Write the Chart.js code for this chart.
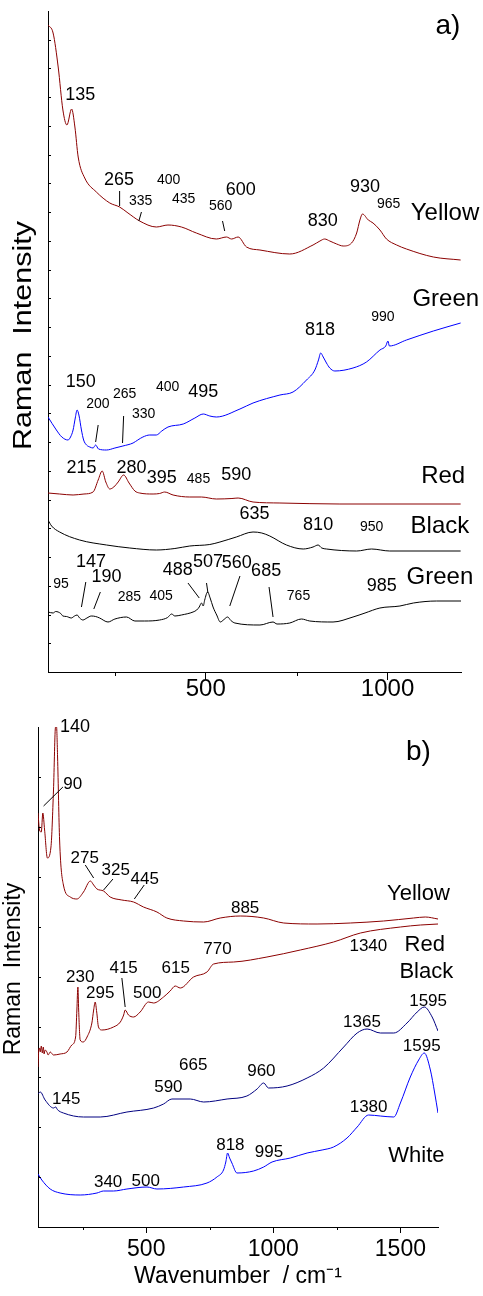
<!DOCTYPE html>
<html>
<head>
<meta charset="utf-8">
<script src="https://cdn.jsdelivr.net/npm/chart.js@4.4.1/dist/chart.umd.min.js"></script>
<style>
  html, body { margin: 0; padding: 0; background: #fff; }
  canvas { display: block; }
</style>
</head>
<body>
<canvas id="chart-a" width="483" height="705"></canvas>
<canvas id="chart-b" width="483" height="591"></canvas>
<script>
// ---- panel a) spectra: [wavenumber, intensity] ----
const yellowA = [[66,647],[80,639],[94,605],[107,562],[118,547],[131,563],[140,545],[149,515],[167,494],[199,480],[236,469],[263,465],[286,459],[318,451],[364,445],[396,447],[433,445],[474,439],[529,433],[557,435],[571,433],[589,435],[612,425],[649,422],[731,418],[795,427],[814,431],[827,433],[841,431],[860,428],[878,426],[901,429],[915,439],[924,452],[931,458],[947,452],[960,449],[979,442],[997,433],[1025,427],[1052,423],[1126,415],[1201,412]];
const greenA = [[66,255],[89,242],[104,235],[121,232],[128,235],[135,242],[141,254],[146,262],[151,257],[158,242],[164,232],[172,227],[181,225],[190,224],[197,227],[205,223],[227,222],[250,224],[272,226],[300,229],[313,232],[327,235],[346,237],[364,237],[379,241],[396,245],[438,248],[470,254],[493,258],[511,256],[529,255],[594,263],[630,269],[704,277],[740,280],[777,292],[800,302],[810,312],[816,319],[823,315],[832,309],[841,304],[855,301],[905,304],[942,310],[979,322],[995,326],[1001,331],[1005,326],[1052,332],[1126,341],[1201,349]];
const redA = [[66,179],[98,178],[135,177],[165,178],[190,180],[204,192],[215,201],[225,190],[236,183],[247,185],[259,190],[274,197],[289,189],[305,181],[318,179],[355,178],[373,178.5],[387,180],[410,177],[456,175],[488,175],[529,173],[572,173.5],[589,174],[630,170],[704,169],[869,168],[1201,168]];
const blackA = [[66,152],[76,146],[98,140],[153,132],[227,127],[291,124],[364,122],[415,123.5],[456,126],[511,127.5],[539,130],[584,135],[630,140],[654,139],[676,136],[722,127],[768,123],[795,125],[809,127],[819,124],[832,123],[915,121],[956,123],[1006,121],[1201,121]];
const greenLowA = [[66,60],[80,59],[87,60.5],[94,60],[101,58.5],[107,56],[117,55.5],[130,54],[139,56],[146,57],[153,54],[162,52],[173,54],[185,56],[197,55.5],[208,54],[231,50],[250,53],[282,55],[305,51],[332,51],[373,52],[395,54.5],[406,58],[415,56],[433,57],[465,60],[475,62],[482,65],[488,69],[493,66],[497,72],[505,80],[512,74],[520,65],[530,57],[540,50],[550,52.5],[560,55],[569,51.5],[580,49],[649,47],[685,50],[696,48],[731,49],[763,53],[786,51],[850,50],[905,55],[938,59],[979,64],[1034,66],[1071,69],[1135,71],[1202,71]];

// ---- panel b) spectra ----
const yellowB = [[74,414],[80,397],[87,395],[93,414],[100,397],[111,369],[125,380],[135,437],[143,500],[147,500],[151,470],[159,387],[174,342],[201,330],[227,328],[253,335],[280,346],[293,342],[306,338],[332,336],[358,330],[404,327],[450,325],[489,320],[542,315],[581,309],[647,306],[726,305],[791,309],[870,311],[962,309],[1041,304],[1172,303],[1303,304],[1434,306],[1552,309],[1598,310],[1648,308]];
const redB = [[74,160],[77,177],[80,179],[83,175],[87,181],[91,174],[95,180],[98,173],[102,177],[109,175],[114,172],[122,175],[135,172],[161,173],[188,175],[207,182],[222,190],[227,217],[231,240],[234,217],[240,187],[252,185],[267,190],[286,204],[293,217],[299,225],[305,215],[312,200],[326,197],[371,200],[398,205],[411,212],[417,217],[430,212],[450,210],[476,215],[509,225],[529,224],[568,230],[594,236],[614,241],[634,239],[686,250],[739,255],[765,263],[844,265],[975,270],[1106,277],[1237,285],[1343,294],[1500,300],[1579,302],[1648,303]];
const blackB = [[74,133],[83,135],[102,127],[135,119],[144,120],[150,117.5],[174,114],[253,110],[319,110],[424,115],[529,119],[568,123],[601,128],[673,128],[726,125],[818,128],[896,131],[936,138],[962,144],[981,139],[1054,141],[1133,149],[1198,159],[1277,180],[1330,194],[1369,198],[1421,194],[1474,194],[1526,204],[1566,215],[1594,220],[1625,210],[1648,196]];
const whiteB = [[74,53],[89,47],[122,38],[161,34],[240,32],[306,34],[332,36],[371,36],[424,38],[503,40],[542,38],[647,40],[739,44],[778,50],[804,57],[813,65],[820,74],[828,69],[837,64],[857,54],[922,56],[962,60],[995,65],[1067,69],[1133,74],[1192,77],[1237,80],[1290,89],[1330,100],[1375,112],[1421,111],[1474,110],[1500,124],[1539,150],[1572,167],[1594,174],[1618,157],[1635,134],[1648,114]];

// ---- axes ----
const xTicksA = [500, 1000];
const xMinorA = [250, 750];
const xTicksB = [500, 1000, 1500];
const xMinorB = [250, 750, 1250];
const yTitle = 'Raman  Intensity';
const xTitleB = 'Wavenumber  / cm\u207B\u00B9';

// ---- peak notes: text, wavenumber, intensity, font size ----
const L = 18, S = 14, N = 24;
const notesA = [
  ['135',155,577,L],['265',261,492,L],['400',398,492,S],['335',321,471,S],['435',439,473,S],['560',541,466,S],['600',596,482,L],['830',822,451,L],['930',938,485,L],['965',1003,468,S],['Yellow',1158,459,N],
  ['150',156,290,L],['200',203,268,S],['265',277,278,S],['330',329,258,S],['400',395,285,S],['495',493,280,L],['818',814,342,L],['990',987,355,S],['Green',1160,373,N],
  ['215',158,204,L],['280',296,204,L],['395',379,194,L],['485',480,193,S],['590',584,197,L],['Red',1153,196,N],
  ['635',634,158,L],['810',809,146.5,L],['950',956,145,S],['Black',1144,146,N],
  ['147',184,110,L],['95',102,88,S],['190',227,95,L],['285',290,74.5,S],['405',377,75.5,S],['488',423,102,L],['507',506,110,L],['560',585,109,L],['685',666,100.7,L],['765',755,76,S],['985',984,86,L],['Green',1144,95,N],
  ['a)',1166,646,28]
];
const leadersA = [[263,481,263,466],[323,460,316,451],[546,451,552,441],[204,247,197,230],[274,256,271,229],[170,90,158,65],[210,80,192,63],[451,89,482,74],[502,89,506,79],[594,96,566,66],[674,85,685,55]];

const LB = 17, NB = 22;
const notesB = [
  ['140',220,500,18],['b)',1571,475,28],['90',211,443,LB],['275',258,369,LB],['325',380,357,LB],['445',494,348,LB],['885',889,319,LB],['Yellow',1571,333,NB],
  ['1340',1374,281,LB],['Red',1596,282,NB],['Black',1602,255,NB],['770',780,278,LB],['615',616,259,LB],['415',411,259,LB],['230',240,249.5,LB],['295',319,234,LB],['500',504,234,LB],
  ['1595',1609,226,LB],['1365',1349,204.5,LB],['665',685,161.5,LB],['960',953,156,LB],['590',587,139.5,LB],['145',185,128,LB],
  ['1595',1584,181,LB],['1380',1375,119.5,LB],['818',831,81.5,LB],['995',983,75,LB],['White',1563,71,NB],['340',350,45,LB],['500',498,46,LB]
];
const leadersB = [[172,440,96,421],[260,362,293,349],[369,348,332,337],[492,342,453,328],[404,249,417,220]];

const FONT = '"Liberation Sans", Arial, Helvetica, sans-serif';
const DARK_RED = '#8b0000';
const BLUE = '#0000ff';
const NAVY = '#000080';
const BLACK = '#000000';

Chart.defaults.font.family = FONT;
Chart.defaults.color = '#000';

const pts = arr => arr.map(([x, y]) => ({ x, y }));

function series(data, color) {
  return {
    data: pts(data),
    borderColor: color,
    borderWidth: 1,
    pointRadius: 0,
    fill: false,
    cubicInterpolationMode: 'monotone'
  };
}

// minor x ticks (short, outward) and small inward y ticks
function axisMarks(minor, minorLen, yStep, yLen) {
  return {
    id: 'axisMarks',
    afterDraw(chart) {
      const { ctx, scales: { x, y } } = chart;
      ctx.save();
      ctx.strokeStyle = '#000';
      ctx.lineWidth = 1;
      ctx.beginPath();
      minor.forEach(v => {
        const px = Math.round(x.getPixelForValue(v)) + 0.5;
        ctx.moveTo(px, x.top);
        ctx.lineTo(px, x.top + minorLen);
      });
      for (let v = y.min + yStep; v < y.max - 1; v += yStep) {
        const py = Math.round(y.getPixelForValue(v)) + 0.5;
        ctx.moveTo(y.right, py);
        ctx.lineTo(y.right + yLen, py);
      }
      ctx.stroke();
      ctx.restore();
    }
  };
}

// rotated y title, optionally stretched along its length
function yAxisTitle(text, size, cx, shift, stretch) {
  return {
    id: 'yAxisTitle',
    afterDraw(chart) {
      const { ctx, chartArea } = chart;
      ctx.save();
      ctx.translate(cx, (chartArea.top + chartArea.bottom) / 2 + shift);
      ctx.rotate(-Math.PI / 2);
      ctx.scale(stretch, 1);
      ctx.font = size + 'px ' + FONT;
      ctx.fillStyle = '#000';
      ctx.textAlign = 'center';
      ctx.textBaseline = 'middle';
      ctx.fillText(text, 0, 0);
      ctx.restore();
    }
  };
}

function peakNotes(notes, leaders) {
  return {
    id: 'peakNotes',
    afterDatasetsDraw(chart) {
      const { ctx, scales: { x, y } } = chart;
      ctx.save();
      ctx.strokeStyle = '#000';
      ctx.lineWidth = 1;
      ctx.beginPath();
      leaders.forEach(([x1, y1, x2, y2]) => {
        ctx.moveTo(x.getPixelForValue(x1), y.getPixelForValue(y1));
        ctx.lineTo(x.getPixelForValue(x2), y.getPixelForValue(y2));
      });
      ctx.stroke();
      ctx.fillStyle = '#000';
      ctx.textAlign = 'center';
      ctx.textBaseline = 'middle';
      notes.forEach(([text, wn, v, size]) => {
        ctx.font = size + 'px ' + FONT;
        ctx.fillText(text, x.getPixelForValue(wn), y.getPixelForValue(v));
      });
      ctx.restore();
    }
  };
}

function makePanel(id, o) {
  return new Chart(document.getElementById(id), {
    type: 'line',
    data: { datasets: o.datasets },
    options: {
      responsive: false,
      animation: false,
      layout: { autoPadding: false, padding: o.padding },
      plugins: { legend: { display: false }, tooltip: { enabled: false } },
      scales: {
        x: {
          type: 'linear',
          min: o.xMin,
          max: o.xMax,
          afterBuildTicks: s => { s.ticks = o.xTicks.map(v => ({ value: v })); },
          afterFit: s => { s.height = o.xHeight; },
          ticks: {
            autoSkip: false,
            maxRotation: 0,
            padding: o.tickPad,
            font: { size: o.tickFont },
            callback: v => String(v)
          },
          grid: { display: true, drawOnChartArea: false, tickLength: o.tickLen, color: '#000', tickWidth: 1 },
          border: { display: true, color: '#000', width: 1 },
          title: o.xTitle
        },
        y: {
          min: 0,
          max: o.yMax,
          afterFit: s => { s.width = o.yWidth; },
          ticks: { display: false },
          grid: { display: false },
          border: { display: true, color: '#000', width: 1 }
        }
      }
    },
    plugins: [
      axisMarks(o.xMinor, o.minorLen, o.yStep, 3),
      yAxisTitle(yTitle, o.yt.size, o.yt.cx, o.yt.shift, o.yt.stretch),
      peakNotes(o.notes, o.leaders)
    ]
  });
}

makePanel('chart-a', {
  datasets: [
    series(yellowA, DARK_RED),
    series(greenA, BLUE),
    series(redA, DARK_RED),
    series(blackA, BLACK),
    series(greenLowA, BLACK)
  ],
  padding: { top: 11, right: 22, left: 0, bottom: 0 },
  xMin: 66, xMax: 1202, xTicks: xTicksA, xMinor: xMinorA,
  xHeight: 33, tickPad: -5, tickFont: 24, tickLen: 8, minorLen: 4,
  xTitle: { display: false },
  yMax: 661, yStep: 661 / 23, yWidth: 48,
  yt: { size: 25, cx: 24, shift: -6, stretch: 1.22 },
  notes: notesA, leaders: leadersA
});

makePanel('chart-b', {
  datasets: [
    series(yellowB, DARK_RED),
    series(redB, DARK_RED),
    series(blackB, NAVY),
    series(whiteB, BLUE)
  ],
  padding: { top: 22, right: 45, left: 0, bottom: 0 },
  xMin: 74, xMax: 1648, xTicks: xTicksB, xMinor: xMinorB,
  xHeight: 69, tickPad: 3, tickFont: 23, tickLen: 6, minorLen: 3,
  xTitle: { display: true, text: xTitleB, font: { size: 23 }, padding: { top: 0, bottom: 6 } },
  yMax: 500, yStep: 50, yWidth: 38,
  yt: { size: 23, cx: 14, shift: -8, stretch: 1 },
  notes: notesB, leaders: leadersB
});
</script>
</body>
</html>
